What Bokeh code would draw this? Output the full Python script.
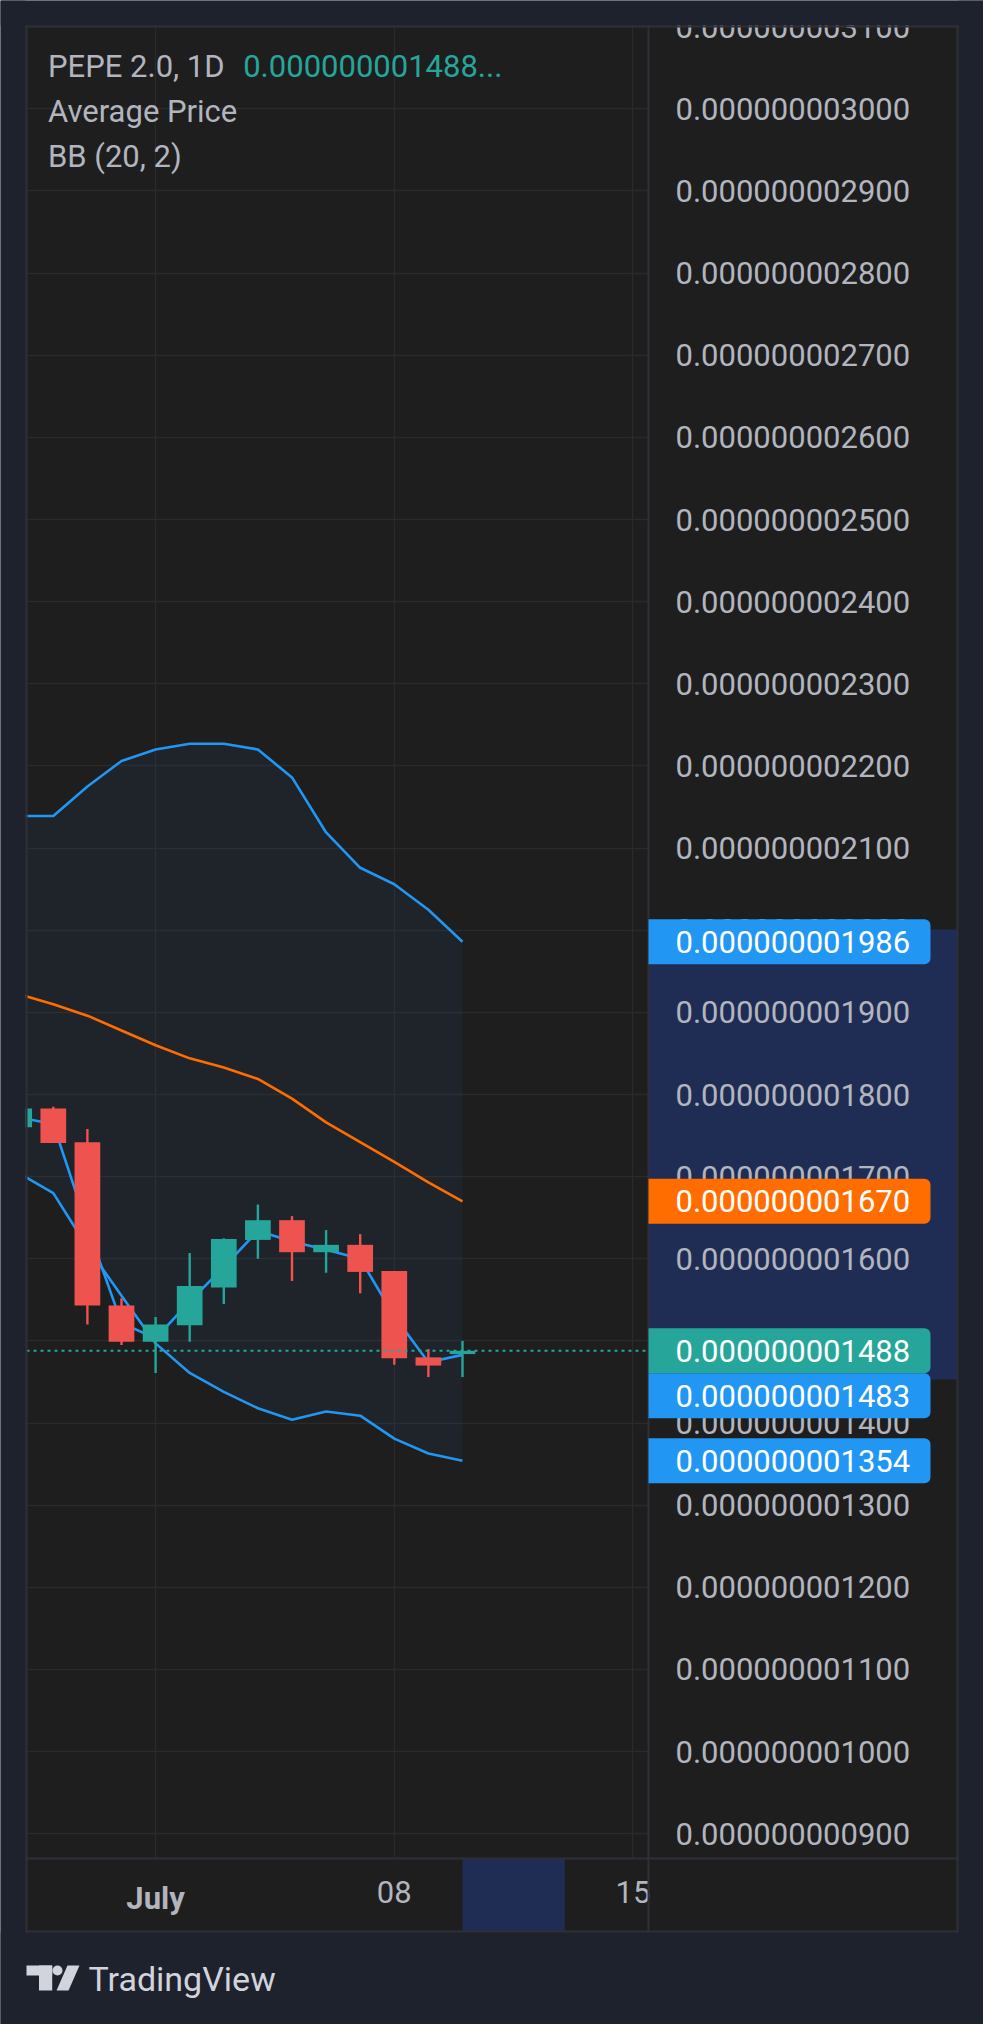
from bokeh.plotting import figure
from bokeh.models import (Range1d, FixedTicker, PrintfTickFormatter, BoxAnnotation,
                          Label, PolyAnnotation, ColumnDataSource)
from bokeh.embed import file_html
from bokeh.resources import INLINE

# ---------------- data (prices in units of 1e-12) ----------------
SCALE = 1e-12
# day offset from July 1 (Jun 27 ... Jul 10)
day_offsets = [-4, -3, -2, -1, 0, 1, 2, 3, 4, 5, 6, 7, 8, 9]
opens  = [1760, 1783, 1742, 1543, 1499, 1519, 1565, 1623, 1647, 1608, 1617, 1585, 1480, 1484]
highs  = [1790, 1785, 1758, 1552, 1529, 1607, 1625, 1666, 1652, 1635, 1630, 1585, 1490, 1500]
lows   = [1755, 1741, 1520, 1495, 1461, 1499, 1545, 1600, 1573, 1583, 1558, 1471, 1456, 1456]
closes = [1783, 1741, 1543, 1499, 1520, 1567, 1624, 1647, 1608, 1617, 1584, 1479, 1470, 1488]
avg_price = [1772, 1764, 1639, 1522, 1503, 1548, 1590, 1634, 1621, 1611, 1600, 1530, 1474, 1483]
bb_upper = [2139, 2139, 2175, 2206, 2220, 2227, 2227, 2220, 2186, 2119, 2076, 2056, 2025, 1986]
bb_basis = [1922, 1910, 1896, 1878, 1860, 1844, 1833, 1819, 1795, 1766, 1742, 1718, 1693, 1670]
bb_lower = [1704, 1680, 1614, 1555, 1497, 1461, 1438, 1418, 1404, 1414, 1409, 1381, 1363, 1354]

x_tick_days = [0, 7, 14]
x_tick_labels = ["July", "08", "15"]
y_ticks = [900, 1000, 1100, 1200, 1300, 1400, 1500, 1600, 1700, 1800, 1900, 2000,
           2100, 2200, 2300, 2400, 2500, 2600, 2700, 2800, 2900, 3000, 3100]
highlight_price = [1453, 2001]
highlight_days = [9, 12]

title_text = "PEPE 2.0, 1D"
legend_lines = ["Average Price", "BB (20, 2)"]

# ---------------- style ----------------
OUTER = "#1e222d"
PANEL = "#1e1e1e"
EDGE = "#2e3039"
GRID = "#2a2a2a"
TXT = "#b2b5be"
UP = "#26a69a"
DOWN = "#ef5350"
BLUE = "#2196f3"
ORANGE = "#ff6d00"
NAVY = "#1f2d55"
FONT = "Roboto"
FS = "31px"

W, H = 983, 2024
# chart (price pane) extent in data units; the whole canvas is the plot frame
CHART_X = (-3.786, 14.455)          # pixels 26 .. 648
CHART_Y = (869.9, 3100.2)           # pixels 1858 .. 26
PX_DAY = (648 - 26) / (CHART_X[1] - CHART_X[0])
PX_UNIT = (1858 - 26) / (CHART_Y[1] - CHART_Y[0])
X_RANGE = (CHART_X[0] - 26 / PX_DAY, CHART_X[1] + (W - 648) / PX_DAY)
Y_RANGE = (CHART_Y[0] - (H - 1858) / PX_UNIT, CHART_Y[1] + 26 / PX_UNIT)


def sx(X):
    return X


def sy(Y):
    return H - Y


p = figure(width=W, height=H,
           x_range=Range1d(*X_RANGE),
           y_range=Range1d(Y_RANGE[0] * SCALE, Y_RANGE[1] * SCALE),
           output_backend="svg", toolbar_location=None,
           y_axis_location="right",
           min_border=0, min_border_left=0, min_border_right=0,
           min_border_top=0, min_border_bottom=0,
           background_fill_color=PANEL, border_fill_color=PANEL,
           outline_line_color=None)

# grids limited to the price pane
p.xgrid.ticker = FixedTicker(ticks=x_tick_days)
p.ygrid.ticker = FixedTicker(ticks=[t * SCALE for t in y_ticks])
p.grid.grid_line_color = GRID
p.grid.grid_line_width = 1.3
p.xgrid.cross_bounds = (CHART_Y[0] * SCALE, CHART_Y[1] * SCALE)
p.ygrid.cross_bounds = CHART_X

# x axis (time scale), fixed at the bottom of the price pane
xa = p.xaxis[0]
xa.fixed_location = CHART_Y[0] * SCALE
xa.ticker = FixedTicker(ticks=x_tick_days)
xa.major_label_overrides = {d: ("" if i == 0 else lab)
                            for i, (d, lab) in enumerate(zip(x_tick_days, x_tick_labels))}
xa.axis_line_color = None
xa.major_tick_line_color = None
xa.minor_tick_line_color = None
xa.major_tick_out = 0
xa.major_label_text_font = FONT
xa.major_label_text_font_size = FS
xa.major_label_text_color = TXT
xa.major_label_standoff = 22

# y axis (price scale), fixed at the right edge of the price pane
ya = p.yaxis[0]
ya.fixed_location = CHART_X[1]
ya.ticker = FixedTicker(ticks=[t * SCALE for t in y_ticks])
ya.formatter = PrintfTickFormatter(format="%.12f")
ya.axis_line_color = None
ya.major_tick_line_color = None
ya.minor_tick_line_color = None
ya.major_tick_out = 0
ya.major_label_text_font = FONT
ya.major_label_text_font_size = FS
ya.major_label_text_color = TXT
ya.major_label_standoff = 27

# highlights on the scales (under the axis labels)
p.add_layout(BoxAnnotation(left=CHART_X[1], right=sx(957), right_units="screen",
                           bottom=highlight_price[0] * SCALE, top=highlight_price[1] * SCALE,
                           fill_color=NAVY, fill_alpha=1, line_color=None, level="underlay"))
p.add_layout(BoxAnnotation(left=highlight_days[0], right=highlight_days[1],
                           top=CHART_Y[0] * SCALE, bottom=sy(1931), bottom_units="screen",
                           fill_color=NAVY, fill_alpha=1, line_color=None, level="underlay"))

# ---------------- series ----------------
src = ColumnDataSource(dict(
    x=day_offsets,
    upper=[v * SCALE for v in bb_upper],
    basis=[v * SCALE for v in bb_basis],
    lower=[v * SCALE for v in bb_lower],
    avg=[v * SCALE for v in avg_price],
))
p.varea(x="x", y1="lower", y2="upper", source=src, fill_color=BLUE, fill_alpha=0.055)
p.line(x="x", y="upper", source=src, line_color=BLUE, line_width=2.6)
p.line(x="x", y="lower", source=src, line_color=BLUE, line_width=2.6)
p.line(x="x", y="basis", source=src, line_color=ORANGE, line_width=2.6)
p.line(x="x", y="avg", source=src, line_color=BLUE, line_width=2.6)

colors = [UP if c >= o else DOWN for o, c in zip(opens, closes)]
csrc = ColumnDataSource(dict(
    x=day_offsets,
    high=[v * SCALE for v in highs],
    low=[v * SCALE for v in lows],
    top=[max(o, c) * SCALE for o, c in zip(opens, closes)],
    bottom=[min(o, c) * SCALE for o, c in zip(opens, closes)],
    color=colors,
))
p.segment(x0="x", y0="low", x1="x", y1="high", source=csrc, line_color="color", line_width=2.4)
p.vbar(x="x", width=0.754, top="top", bottom="bottom", source=csrc,
       fill_color="color", line_color=None)

# current price dotted line across the price pane
last_close = closes[-1]
p.segment(x0=[CHART_X[0]], x1=[CHART_X[1]], y0=[last_close * SCALE], y1=[last_close * SCALE],
          line_color=UP, line_dash="3 4", line_width=2)


# ---------------- frame / outer background (overlay) ----------------
def sbox(x0, y0, x1, y1, color, radius=0):
    return BoxAnnotation(left=sx(x0), right=sx(x1), top=sy(y0), bottom=sy(y1),
                         left_units="screen", right_units="screen",
                         top_units="screen", bottom_units="screen",
                         fill_color=color, fill_alpha=1, line_color=None,
                         border_radius=radius, level="overlay")


for b in [(0, 0, W, 25), (0, 0, 25, H), (958, 0, W, H), (0, 1932, W, H)]:
    p.add_layout(sbox(*b, OUTER))
for b in [(25, 25, 958, 27), (25, 25, 27, 1932), (956, 25, 958, 1932), (25, 1930, 958, 1932),
          (647, 25, 649, 1932), (25, 1857, 958, 1859)]:
    p.add_layout(sbox(*b, EDGE))

# ---------------- price labels on the right scale ----------------
box_h = 54.8  # label height in price units (~45px)
price_tags = [
    (bb_upper[-1], bb_upper[-1], BLUE),
    (bb_basis[-1], bb_basis[-1], ORANGE),
    (last_close, last_close, UP),
    (avg_price[-1], min(avg_price[-1], last_close - box_h), BLUE),
    (bb_lower[-1], bb_lower[-1], BLUE),
]
for val, pos, col in price_tags:
    p.add_layout(BoxAnnotation(left=CHART_X[1], right=sx(930), right_units="screen",
                               bottom=(pos - box_h / 2) * SCALE, top=(pos + box_h / 2) * SCALE,
                               fill_color=col, fill_alpha=1, line_color=None,
                               border_radius=(0, 6, 6, 0), level="overlay"))
    p.add_layout(Label(x=sx(675), x_units="screen", y=pos * SCALE, text=f"{val * SCALE:.12f}",
                       text_color="#ffffff", text_font=FONT, text_font_size=FS,
                       text_baseline="middle", text_align="left", level="overlay"))

# ---------------- legend texts ----------------
legend_centers = [65.9, 111.2, 155.5]
p.add_layout(Label(x=sx(47.5), y=sy(legend_centers[0]), x_units="screen", y_units="screen",
                   text=title_text, text_color=TXT, text_font=FONT, text_font_size=FS,
                   text_baseline="middle", level="overlay"))
p.add_layout(Label(x=sx(242.7), y=sy(legend_centers[0]), x_units="screen", y_units="screen",
                   text=f"{last_close * SCALE:.12f}...",
                   text_color=UP, text_font=FONT, text_font_size=FS,
                   text_baseline="middle", level="overlay"))
for t, c in zip(legend_lines, legend_centers[1:]):
    p.add_layout(Label(x=sx(47.5), y=sy(c), x_units="screen", y_units="screen", text=t,
                       text_color=TXT, text_font=FONT, text_font_size=FS,
                       text_baseline="middle", level="overlay"))

# bold month label on the time scale
p.add_layout(Label(x=x_tick_days[0], y=sy(1898), y_units="screen", text=x_tick_labels[0],
                   text_color=TXT, text_font=FONT, text_font_size=FS, text_font_style="bold",
                   text_align="center", text_baseline="middle", level="overlay"))

# ---------------- TradingView logo ----------------
LOGO = "#d1d4dc"
p.add_layout(sbox(26, 1965, 51.7, 1975, LOGO))
p.add_layout(sbox(38.5, 1965, 51.7, 1990, LOGO))
p.add_layout(sbox(52, 1965, 62, 1975, LOGO, radius=5))
p.add_layout(PolyAnnotation(xs=[sx(67), sx(79), sx(68), sx(56)],
                            ys=[sy(1965), sy(1965), sy(1990), sy(1990)],
                            xs_units="screen", ys_units="screen",
                            fill_color=LOGO, fill_alpha=1, line_color=None, level="overlay"))
p.add_layout(Label(x=sx(88), y=sy(1978), x_units="screen", y_units="screen", text="TradingView",
                   text_color=LOGO, text_font=FONT, text_font_size="34px",
                   text_baseline="middle", level="overlay"))

open("out.html", "w").write(file_html(p, INLINE))
